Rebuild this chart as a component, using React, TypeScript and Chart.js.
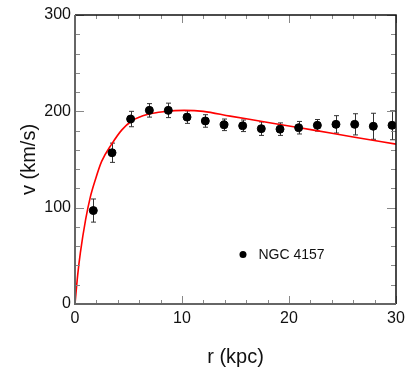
import React, { useEffect, useRef } from "react";
import { Chart, registerables } from "chart.js";

Chart.register(...registerables);

// Observed rotation curve (NGC 4157)
const radii = [1.71, 3.46, 5.2, 6.95, 8.72, 10.47, 12.18, 13.93, 15.67, 17.41, 19.16, 20.9, 22.65, 24.39, 26.14, 27.88, 29.63];
const velocities = [97, 157, 192, 201, 201, 194, 190, 186, 185, 182, 181.5, 183, 185.5, 186.5, 186.5, 184.5, 185.5];
const errors = [12, 10, 8, 7, 7.5, 6.5, 6.5, 6, 6, 7, 6.5, 6.5, 6, 9, 11, 13.5, 15];

// Model curve
const modelR = [0, 0.25, 0.5, 1.0, 1.43, 1.9, 2.49, 3.43, 4.36, 5.3, 6.85, 8.4, 10.2, 12, 14.5, 17.5, 20, 22.3, 26, 30];
const modelV = [0, 30, 53, 88, 111, 129, 148, 166, 180.5, 190, 197, 199.8, 201, 200, 195, 189.5, 184.8, 180.5, 173.3, 166];

const xTicks = [0, 10, 20, 30];
const yTicks = [0, 100, 200, 300];
const legendLabel = "NGC 4157";

const FONT = "'Liberation Sans', Arial, Helvetica, sans-serif";

const errorBarPlugin = {
  id: "errorBars",
  beforeDatasetsDraw(chart: any) {
    const { ctx, scales } = chart;
    const xs = scales.x, ys = scales.y;
    ctx.save();
    ctx.strokeStyle = "#333";
    ctx.lineWidth = 1;
    radii.forEach((r, i) => {
      const px = Math.round(xs.getPixelForValue(r)) + 0.5;
      const top = ys.getPixelForValue(velocities[i] + errors[i]);
      const bot = ys.getPixelForValue(velocities[i] - errors[i]);
      ctx.beginPath();
      ctx.moveTo(px, top);
      ctx.lineTo(px, bot);
      ctx.moveTo(px - 2.5, top);
      ctx.lineTo(px + 2.5, top);
      ctx.moveTo(px - 2.5, bot);
      ctx.lineTo(px + 2.5, bot);
      ctx.stroke();
    });
    ctx.restore();
  },
};

const framePlugin = {
  id: "frame",
  afterDatasetsDraw(chart: any) {
    const { ctx, chartArea, scales } = chart;
    const { left, right, top, bottom } = chartArea;
    const xs = scales.x, ys = scales.y;
    ctx.save();
    ctx.strokeStyle = "#888";
    ctx.lineWidth = 1;
    for (let v = 0; v <= 30; v += 2) {
      const px = Math.round(xs.getPixelForValue(v)) + 0.5;
      const len = v % 10 === 0 ? 8 : 4;
      ctx.beginPath();
      ctx.moveTo(px, bottom);
      ctx.lineTo(px, bottom - len);
      ctx.moveTo(px, top);
      ctx.lineTo(px, top + len);
      ctx.stroke();
    }
    for (let v = 0; v <= 300; v += 20) {
      const py = Math.round(ys.getPixelForValue(v)) + 0.5;
      const len = v % 100 === 0 ? 9 : 5;
      ctx.beginPath();
      ctx.moveTo(left, py);
      ctx.lineTo(left + len, py);
      ctx.moveTo(right, py);
      ctx.lineTo(right - len, py);
      ctx.stroke();
    }
    ctx.lineWidth = 1.5;
    ctx.strokeStyle = "#111";
    ctx.beginPath();
    ctx.moveTo(left, top);
    ctx.lineTo(right, top);
    ctx.lineTo(right, bottom);
    ctx.stroke();
    ctx.strokeStyle = "#666";
    ctx.lineWidth = 2;
    ctx.beginPath();
    ctx.moveTo(left, top);
    ctx.lineTo(left, bottom);
    ctx.lineTo(right, bottom);
    ctx.stroke();
    ctx.restore();
  },
  afterDraw(chart: any) {
    const { ctx, scales } = chart;
    const px = scales.x.getPixelForValue(15.7);
    const py = scales.y.getPixelForValue(51.5);
    ctx.save();
    ctx.fillStyle = "#000";
    ctx.beginPath();
    ctx.arc(px, py, 3.5, 0, Math.PI * 2);
    ctx.fill();
    ctx.font = `14px ${FONT}`;
    ctx.textBaseline = "middle";
    ctx.textAlign = "left";
    ctx.fillStyle = "#111";
    ctx.fillText(legendLabel, px + 15.5, py + 1);
    ctx.restore();
  },
};

export default function App() {
  const ref = useRef<HTMLCanvasElement | null>(null);
  useEffect(() => {
    document.body.style.margin = "0";
    const canvas = ref.current!;
    const chart = new Chart(canvas, {
      type: "scatter",
      data: {
        datasets: [
          {
            label: legendLabel,
            data: radii.map((r, i) => ({ x: r, y: velocities[i] })),
            backgroundColor: "#000",
            borderColor: "#000",
            pointRadius: 4,
            pointHoverRadius: 4,
            order: 1,
          },
          {
            label: "model",
            type: "line",
            data: modelR.map((r, i) => ({ x: r, y: modelV[i] })),
            borderColor: "#ff0000",
            borderWidth: 1.6,
            pointRadius: 0,
            fill: false,
            showLine: true,
            cubicInterpolationMode: "monotone",
            order: 2,
          } as any,
        ],
      },
      options: {
        animation: false,
        responsive: false,
        devicePixelRatio: 1,
        layout: { padding: { top: 15, right: 14, left: 0, bottom: 0 } },
        plugins: { legend: { display: false }, tooltip: { enabled: false } },
        scales: {
          x: {
            type: "linear",
            min: 0,
            max: 30,
            grid: { display: false, drawTicks: false },
            border: { display: false },
            afterBuildTicks: (s: any) => {
              s.ticks = xTicks.map((v) => ({ value: v }));
            },
            afterFit: (s: any) => {
              s.height = 65;
            },
            ticks: { color: "#111", padding: 5, font: { family: FONT, size: 16 } },
            title: {
              display: true,
              text: "r (kpc)",
              color: "#111",
              font: { family: FONT, size: 20 },
              padding: { top: 13, bottom: 0 },
            },
          },
          y: {
            type: "linear",
            min: 0,
            max: 300,
            grid: { display: false, drawTicks: false },
            border: { display: false },
            afterBuildTicks: (s: any) => {
              s.ticks = yTicks.map((v) => ({ value: v }));
            },
            afterFit: (s: any) => {
              s.width = 75;
            },
            ticks: { color: "#111", padding: 4, font: { family: FONT, size: 16 } },
            title: {
              display: true,
              text: "v (km/s)",
              color: "#111",
              font: { family: FONT, size: 20 },
              padding: { top: 17, bottom: 0 },
            },
          },
        },
      },
      plugins: [errorBarPlugin, framePlugin],
    });
    return () => chart.destroy();
  }, []);
  return (
    <div style={{ width: 410, height: 369 }}>
      <canvas ref={ref} width={410} height={369} style={{ width: 410, height: 369, display: "block" }} />
    </div>
  );
}
